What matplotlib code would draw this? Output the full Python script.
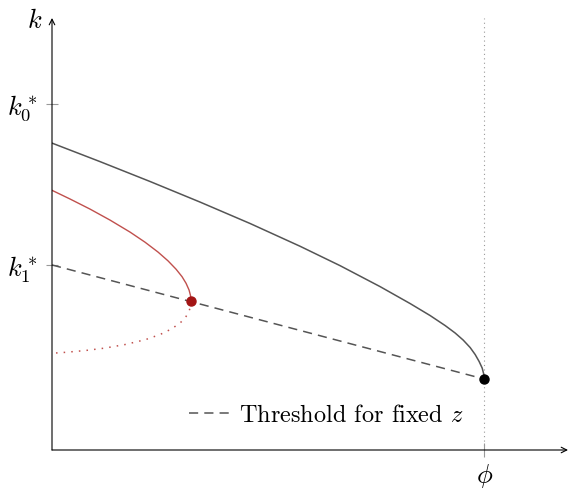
import numpy as np
import matplotlib
matplotlib.use("Agg")
import matplotlib.pyplot as plt

plt.rcParams['mathtext.fontset'] = 'cm'
plt.rcParams['axes.formatter.use_mathtext'] = True

# values (phi = 1, k0* = 1)
phi = 1.0
k0_star = 1.0
k1_star = 0.535
x_max = 1.194
y_max = 1.249

# upper branch (grey)
gray_x = [0.0, 0.1111, 0.2269, 0.3426, 0.4583, 0.5741, 0.6667, 0.7593, 0.8287, 0.875,
          0.9097, 0.9329, 0.9514, 0.9676, 0.9792, 0.9884, 0.9954, 0.9988, 1.0]
gray_k = [0.8873, 0.8338, 0.7763, 0.7168, 0.6549, 0.5890, 0.5329, 0.4723, 0.4234, 0.3887,
          0.3598, 0.3382, 0.3179, 0.2962, 0.2760, 0.2558, 0.2370, 0.2205, 0.2052]

# red branch, stable part
red_x = [0.0, 0.0417, 0.0880, 0.1343, 0.1806, 0.2153, 0.2454, 0.2685, 0.2870, 0.3009,
         0.3102, 0.3171, 0.3206, 0.3218]
red_k = [0.7508, 0.7257, 0.6965, 0.6647, 0.6300, 0.6008, 0.5722, 0.5468, 0.5228, 0.5011,
         0.4820, 0.4627, 0.4462, 0.4300]

# red branch, unstable part (dotted)
red_dot_x = [0.3218, 0.3206, 0.3171, 0.3102, 0.2986, 0.2778, 0.25, 0.2153, 0.1690, 0.1227,
             0.0764, 0.0301, 0.0]
red_dot_k = [0.4300, 0.4153, 0.4014, 0.3861, 0.3699, 0.3508, 0.3338, 0.3187, 0.3049, 0.2947,
             0.2875, 0.2823, 0.2797]

# threshold line for fixed z
thr_x = [0.0, phi]
thr_k = [k1_star, 0.2052]

fig = plt.figure(figsize=(5.69, 4.91), dpi=100)
ax = fig.add_axes([52/569, 41/491, 516/569, 432/491])
ax.set_xlim(0, x_max)
ax.set_ylim(0, y_max)
for s in ax.spines.values():
    s.set_visible(False)

ax.axvline(phi, color='#999999', lw=0.8, ls=(0, (1, 3)))

thr_line, = ax.plot(thr_x, thr_k, color='#555555', lw=1.1, ls=(0, (6, 4)))
ax.plot(gray_x, gray_k, color='#555555', lw=1.1)
ax.plot(red_x, red_k, color='#c0504d', lw=1.0)
ax.plot(red_dot_x, red_dot_k, color='#c0504d', lw=1.1, ls=(0, (1, 4)))
ax.plot([red_x[-1]], [red_k[-1]], 'o', color='#a31515', ms=6.5, zorder=5)
ax.plot([gray_x[-1]], [gray_k[-1]], 'o', color='black', ms=6.5, zorder=5)

# axes arrows
for tip in [(1, 0), (0, 1)]:
    ax.annotate('', xy=tip, xytext=(0, 0), xycoords='axes fraction',
                arrowprops=dict(arrowstyle='->', lw=0.8, color='black', shrinkA=0, shrinkB=0),
                annotation_clip=False)

ax.set_yticks([k1_star, k0_star])
ax.set_yticklabels([r'$k_1^*$', r'$k_0^*$'], fontsize=19)
ax.set_xticks([phi])
ax.set_xticklabels([r'$\phi$'], fontsize=19)
ax.tick_params(axis='y', direction='inout', length=8.4, width=0.8, color='#999999', pad=6)
ax.tick_params(axis='x', direction='inout', length=9.4, width=0.8, color='#999999', pad=4)

ax.text(-0.019, 0.977, r'$k$', transform=ax.transAxes, ha='right', va='baseline', fontsize=19)

ax.legend(handles=[thr_line], labels=[r'Threshold for fixed $z$'], frameon=False,
          loc='center', bbox_to_anchor=(0.532, 0.079), handlelength=1.77, handletextpad=0.29,
          prop={'family': 'cmr10', 'size': 17.5})

fig.savefig('out.png', dpi=100)
